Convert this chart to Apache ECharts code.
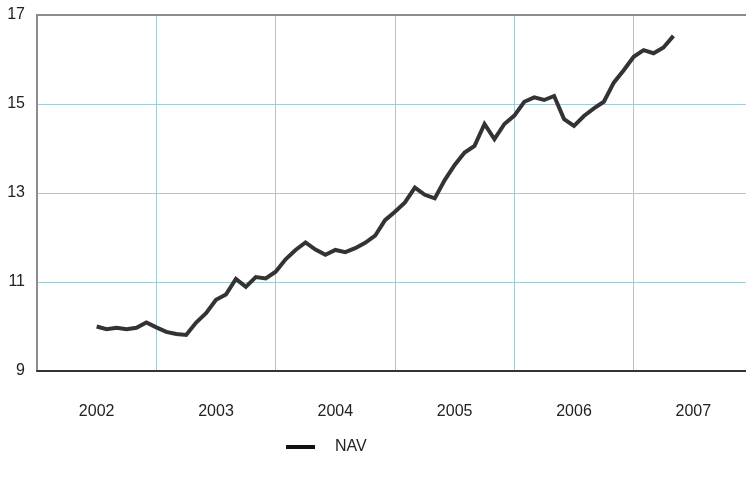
<!DOCTYPE html>
<html>
<head>
<meta charset="utf-8">
<script src="https://cdn.jsdelivr.net/npm/echarts@6/dist/echarts.min.js"></script>
<style>
html,body{margin:0;padding:0;background:#fff;}
#chart{width:746px;height:484px;}
</style>
</head>
<body>
<div id="chart"></div>
<script>
// Data (monthly NAV values)
var months = ["2002-07","2002-08","2002-09","2002-10","2002-11","2002-12",
  "2003-01","2003-02","2003-03","2003-04","2003-05","2003-06","2003-07","2003-08","2003-09","2003-10","2003-11","2003-12",
  "2004-01","2004-02","2004-03","2004-04","2004-05","2004-06","2004-07","2004-08","2004-09","2004-10","2004-11","2004-12",
  "2005-01","2005-02","2005-03","2005-04","2005-05","2005-06","2005-07","2005-08","2005-09","2005-10","2005-11","2005-12",
  "2006-01","2006-02","2006-03","2006-04","2006-05","2006-06","2006-07","2006-08","2006-09","2006-10","2006-11","2006-12",
  "2007-01","2007-02","2007-03","2007-04","2007-05"];
var nav = [10.00, 9.94, 9.97, 9.94, 9.97, 10.09,
  9.98, 9.88, 9.83, 9.81, 10.09, 10.30, 10.60, 10.72, 11.07, 10.89, 11.11, 11.08,
  11.23, 11.51, 11.72, 11.89, 11.73, 11.61, 11.72, 11.67, 11.76, 11.88, 12.04, 12.39,
  12.58, 12.79, 13.12, 12.96, 12.88, 13.29, 13.63, 13.91, 14.06, 14.55, 14.21, 14.55,
  14.74, 15.05, 15.15, 15.09, 15.18, 14.66, 14.51, 14.73, 14.90, 15.05, 15.48, 15.76,
  16.06, 16.21, 16.14, 16.27, 16.53];
var years = ["2002","2003","2004","2005","2006","2007"];
var yTicks = [9, 11, 13, 15, 17];
var seriesName = "NAV";

var startYear = parseInt(years[0], 10);
function monthIndex(s) {
  var p = s.split("-");
  return (parseInt(p[0], 10) - startYear) * 12 + (parseInt(p[1], 10) - 1);
}
var points = months.map(function (m, i) { return [monthIndex(m), nav[i]]; });

var gridColor = "#a3cbd4";
var font = "Liberation Sans, Arial, sans-serif";
var chart = echarts.init(document.getElementById("chart"), null, {renderer: "canvas"});
chart.setOption({
  animation: false,
  backgroundColor: "#ffffff",
  grid: {left: 37, top: 15, width: 716, height: 356, containLabel: false, outerBoundsMode: "none"},
  legend: {
    data: [{name: seriesName, icon: "rect"}],
    left: 286, top: 439, padding: 0,
    itemWidth: 29, itemHeight: 4,
    textStyle: {color: "#222", fontSize: 16, fontFamily: font, padding: [0, 0, 0, 15]}
  },
  xAxis: [
    {
      type: "value", position: "top",
      min: 0, max: years.length * 12, interval: 12,
      axisLine: {show: true, lineStyle: {color: "#8c8c8c", width: 2}},
      axisTick: {show: false}, axisLabel: {show: false},
      splitLine: {show: true, lineStyle: {color: gridColor, width: 1}}
    },
    {
      type: "category", position: "bottom", data: years, boundaryGap: true,
      axisLine: {show: true, onZero: false, lineStyle: {color: "#333", width: 2}},
      axisTick: {show: false},
      axisLabel: {color: "#222", fontSize: 16, fontFamily: font, margin: 33},
      splitLine: {show: false}
    }
  ],
  yAxis: {
    type: "value", min: yTicks[0], max: yTicks[yTicks.length - 1], interval: 2,
    axisLine: {show: true, lineStyle: {color: "#8c8c8c", width: 2}},
    axisTick: {show: false},
    axisLabel: {color: "#222", fontSize: 16, fontFamily: font, margin: 12},
    splitLine: {show: true, lineStyle: {color: gridColor, width: 1}}
  },
  series: [{
    name: seriesName, type: "line", xAxisIndex: 0,
    data: points, showSymbol: false, symbol: "none",
    lineStyle: {color: "#333333", width: 4, join: "miter"},
    itemStyle: {color: "#111"}
  }]
});
</script>
</body>
</html>
